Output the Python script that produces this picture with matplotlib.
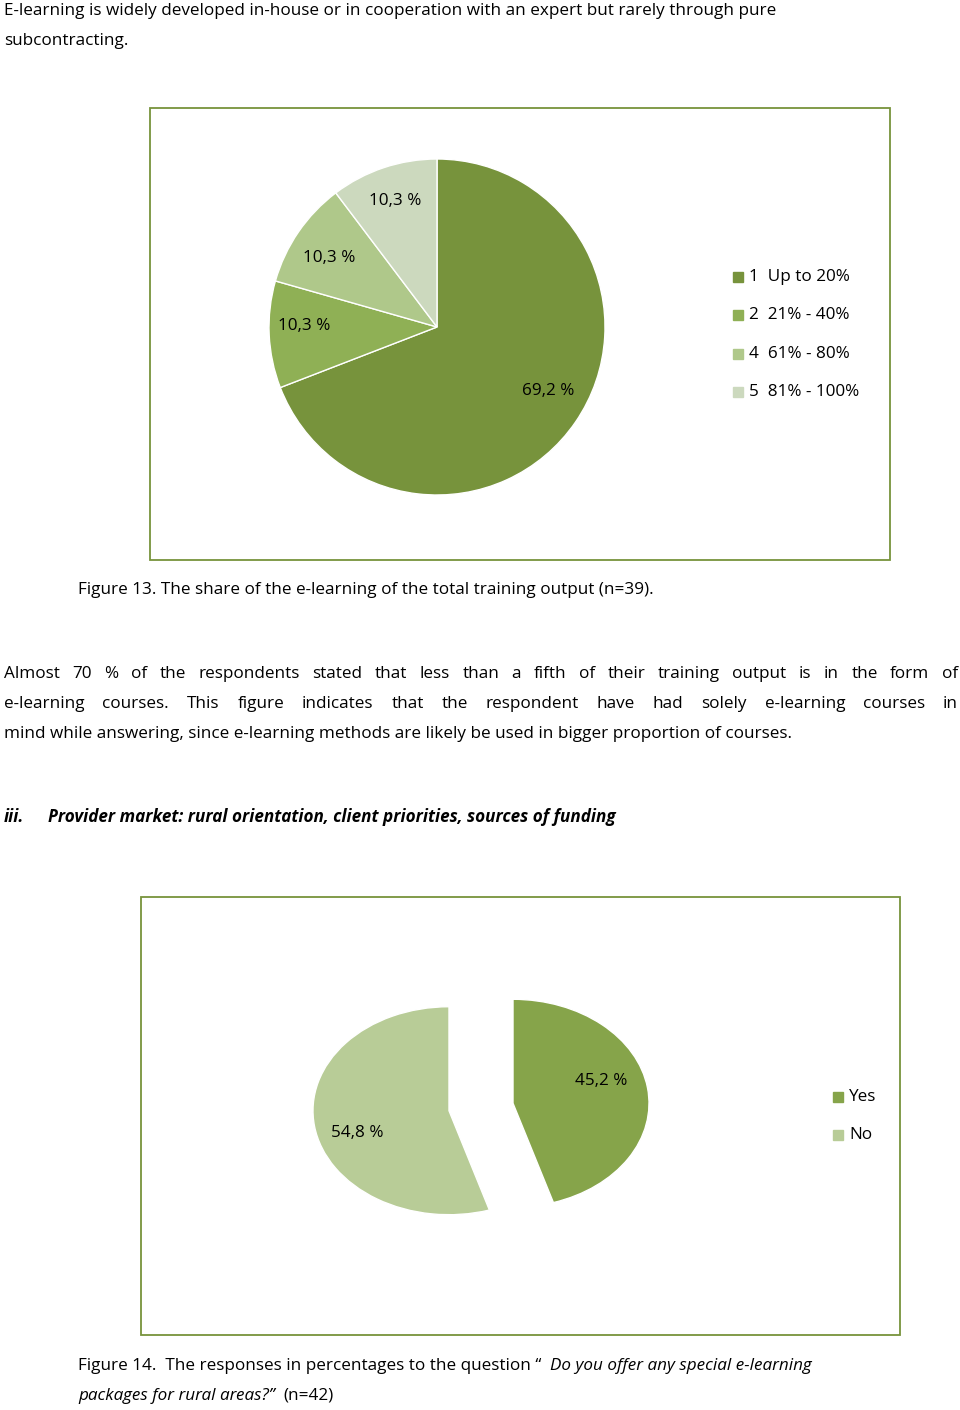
import matplotlib
matplotlib.use("Agg")
import matplotlib.pyplot as plt
from matplotlib.patches import Rectangle

plt.rcParams["font.family"] = "Open Sans"
FS = 12.3

labels1 = ["1  Up to 20%", "2  21% - 40%", "4  61% - 80%", "5  81% - 100%"]
values1 = [69.2, 10.3, 10.3, 10.3]
colors1 = ["#77933C", "#8FB055", "#AFC88A", "#CCD9BE"]

labels2 = ["Yes", "No"]
values2 = [45.2, 54.8]
colors2 = ["#86A44A", "#B8CC97"]

W, H = 960, 1410
fig = plt.figure(figsize=(9.6, 14.1), dpi=100)
bg = fig.add_axes([0, 0, 1, 1]); bg.set_xlim(0, W); bg.set_ylim(H, 0); bg.axis("off")
fig.canvas.draw()
renderer = fig.canvas.get_renderer()

def txt(x, y, s, **kw):
    return bg.text(x, y, s, fontsize=FS, va="center", ha="left", **kw)

def justified(x0, x1, y, s):
    words = s.split(" ")
    widths = []
    for w in words:
        t = bg.text(0, 0, w, fontsize=FS)
        widths.append(t.get_window_extent(renderer).width)
        t.remove()
    gap = (x1 - x0 - sum(widths)) / (len(words) - 1)
    x = x0
    for w, wd in zip(words, widths):
        txt(x, y, w)
        x += wd + gap

txt(4, 11, "E-learning is widely developed in-house or in cooperation with an expert but rarely through pure")
txt(4, 41, "subcontracting.")
txt(78, 590, "Figure 13. The share of the e-learning of the total training output (n=39).")
justified(4, 958, 674, "Almost 70 % of the respondents stated that less than a fifth of their training output is in the form of")
justified(4, 958, 704, "e-learning courses. This figure indicates that the respondent have had solely e-learning courses in")
txt(4, 734, "mind while answering, since e-learning methods are likely be used in bigger proportion of courses.")
txt(4, 817, "iii.", fontweight="bold", style="italic")
txt(48, 817, "Provider market: rural orientation, client priorities, sources of funding", fontweight="bold", style="italic")

t = txt(78, 1366, "Figure 14.  The responses in percentages to the question \u201c ")
x = 78 + t.get_window_extent(renderer).width + 4
txt(x, 1366, "Do you offer any special e-learning", style="italic")
t = txt(78, 1396, "packages for rural areas?\u201d ", style="italic")
txt(78 + t.get_window_extent(renderer).width + 4, 1396, "(n=42)")

bg.add_patch(Rectangle((150, 108), 740, 452, fill=False, ec="#77933C", lw=1.3))
bg.add_patch(Rectangle((141, 897), 759, 438, fill=False, ec="#77933C", lw=1.3))

# Pie 1
cx, cy, r = 437, 327, 168
ax1 = fig.add_axes([(cx - r) / W, 1 - (cy + r) / H, 2 * r / W, 2 * r / H])
ax1.pie(values1, colors=colors1, startangle=90, counterclock=False,
        wedgeprops=dict(edgecolor="white", linewidth=1))
ax1.set_aspect("auto")
ax1.set_xlim(-1, 1); ax1.set_ylim(-1, 1)
for s, (x, y) in zip(["69,2 %", "10,3 %", "10,3 %", "10,3 %"],
                     [(548, 391), (304, 326), (329, 258), (395, 201)]):
    fig.text(x / W, 1 - y / H, s, fontsize=FS, ha="center", va="center", zorder=10)
for i, (lab, col) in enumerate(zip(labels1, colors1)):
    y = 277 + i * 38.3
    bg.add_patch(Rectangle((733, y - 5), 10, 10, color=col))
    txt(749, y, lab)

# Pie 2 (elliptical, exploded)
cx, cy, rx, ry = 481, 1107, 170, 130
ax2 = fig.add_axes([(cx - rx) / W, 1 - (cy + ry) / H, 2 * rx / W, 2 * ry / H])
ax2.pie(values2, colors=colors2, startangle=90, counterclock=False,
        explode=[0.2, 0.2], radius=0.84,
        wedgeprops=dict(edgecolor="white", linewidth=1))
ax2.set_aspect("auto")
ax2.set_xlim(-1.05, 1.05); ax2.set_ylim(-1.05, 1.05)
fig.text(601 / W, 1 - 1081 / H, "45,2 %", fontsize=FS, ha="center", va="center", zorder=10)
fig.text(357 / W, 1 - 1133 / H, "54,8 %", fontsize=FS, ha="center", va="center", zorder=10)
for i, (lab, col) in enumerate(zip(labels2, colors2)):
    y = 1097 + i * 38
    bg.add_patch(Rectangle((833, y - 5), 10, 10, color=col))
    txt(849, y, lab)

fig.savefig("out.png", dpi=100, facecolor="white")
